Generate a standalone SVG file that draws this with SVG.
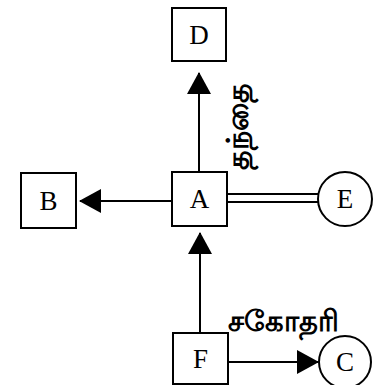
<svg xmlns="http://www.w3.org/2000/svg" width="388" height="385" viewBox="0 0 388 385">
<style>
.node rect,.node circle{fill:#fff;stroke:#000;stroke-width:2}
.lbl{font-family:"Liberation Serif","Times New Roman",serif;font-size:27px;fill:#000;text-anchor:middle;dominant-baseline:central}
.edge{stroke:#000;stroke-width:2;fill:none}
.tam{font-family:"Noto Sans","DejaVu Sans",sans-serif;font-size:30px;font-weight:bold;fill:#000}
</style>
<defs>
<marker id="ah" markerWidth="22" markerHeight="24" refX="21" refY="12" orient="auto" markerUnits="userSpaceOnUse">
<path d="M0,0 L22,12 L0,24 Z" fill="#000"/>
</marker>
</defs>
<g id="connectors">
<line class="edge" x1="199" y1="171" x2="199" y2="73" marker-end="url(#ah)"/>
<line class="edge" x1="171" y1="201" x2="80" y2="201" marker-end="url(#ah)"/>
<line class="edge" x1="200" y1="333" x2="200" y2="233" marker-end="url(#ah)"/>
<line class="edge" x1="229" y1="362" x2="318" y2="362" marker-end="url(#ah)"/>
<line x1="228" y1="198" x2="318" y2="198" stroke="#000" stroke-width="10"/>
<line x1="227" y1="198" x2="319" y2="198" stroke="#fff" stroke-width="6"/>
<text class="tam" transform="translate(248,170) rotate(-90)">தந்தை</text>
<text class="tam" x="228" y="331" style="font-size:29px">சகோதரி</text>
</g>
<g id="node-D" class="node"><rect x="172" y="8" width="54" height="53"/><text class="lbl" x="199" y="35">D</text></g>
<g id="node-A" class="node"><rect x="172" y="172" width="55" height="54"/><text class="lbl" x="199.5" y="199">A</text></g>
<g id="node-B" class="node"><rect x="21" y="173" width="55" height="55"/><text class="lbl" x="48.5" y="200.5">B</text></g>
<g id="node-E" class="node"><circle cx="345" cy="199" r="27"/><text class="lbl" x="345" y="199">E</text></g>
<g id="node-F" class="node"><rect x="173" y="333" width="55" height="51"/><text class="lbl" x="200.5" y="359">F</text></g>
<g id="node-C" class="node"><circle cx="345" cy="362" r="26"/><text class="lbl" x="345" y="362">C</text></g>
</svg>
